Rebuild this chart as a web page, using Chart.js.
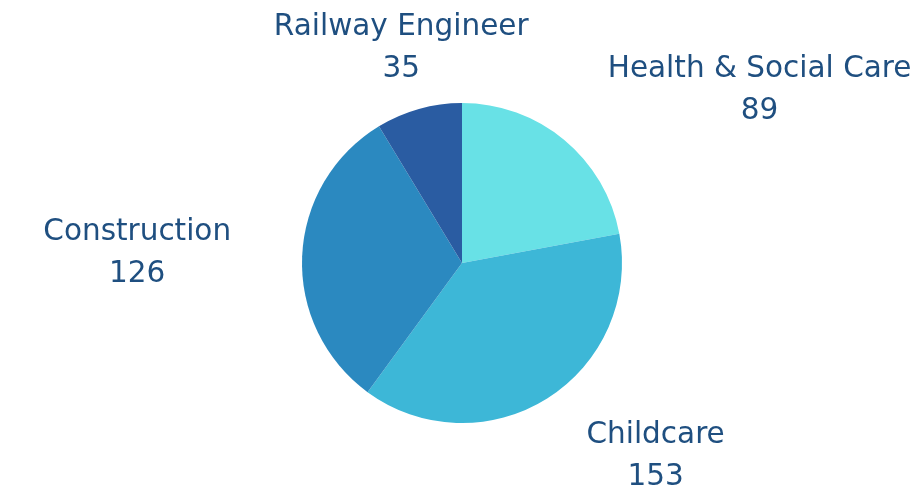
<!DOCTYPE html>
<html>
<head>
<meta charset="utf-8">
<script src="https://cdn.jsdelivr.net/npm/chart.js@4/dist/chart.umd.min.js"></script>
<style>
  html, body { margin: 0; padding: 0; background: #ffffff; }
  #wrap { width: 919px; height: 492px; position: relative; }
</style>
</head>
<body>
<div id="wrap"><canvas id="c" width="919" height="492"></canvas></div>
<script>
const categories = ["Health & Social Care", "Childcare", "Construction", "Railway Engineer"];
const values = [89, 153, 126, 35];
const colors = ["#68e1e6", "#3db7d7", "#2b89c0", "#2a5ca2"];

// label anchor offsets, in units of the pie radius, relative to pie centre
const labelOffsets = [[1.86, -1.08], [1.21, 1.21], [-2.03, -0.06], [-0.38, -1.34]];

const labelPlugin = {
  id: 'outerLabels',
  afterDraw(chart) {
    const ctx = chart.ctx;
    const meta = chart.getDatasetMeta(0);
    const arc0 = meta.data[0];
    const cx = arc0.x, cy = arc0.y, r = arc0.outerRadius;
    ctx.save();
    ctx.fillStyle = '#1f4f80';
    ctx.font = '29.5px "DejaVu Sans"';
    ctx.textAlign = 'center';
    ctx.textBaseline = 'middle';
    categories.forEach((name, i) => {
      const [ox, oy] = labelOffsets[i];
      const x = cx + ox * r, y = cy + oy * r;
      ctx.fillText(name, x, y - 21);
      ctx.fillText(String(chart.data.datasets[0].data[i]), x, y + 21);
    });
    ctx.restore();
  }
};

new Chart(document.getElementById('c'), {
  type: 'pie',
  data: {
    labels: categories,
    datasets: [{
      data: values,
      backgroundColor: colors,
      borderWidth: 0
    }]
  },
  options: {
    responsive: false,
    animation: false,
    layout: { padding: { top: 103, bottom: 69, left: 5, right: 0 } },
    plugins: {
      legend: { display: false },
      tooltip: { enabled: false }
    }
  },
  plugins: [labelPlugin]
});
</script>
</body>
</html>
